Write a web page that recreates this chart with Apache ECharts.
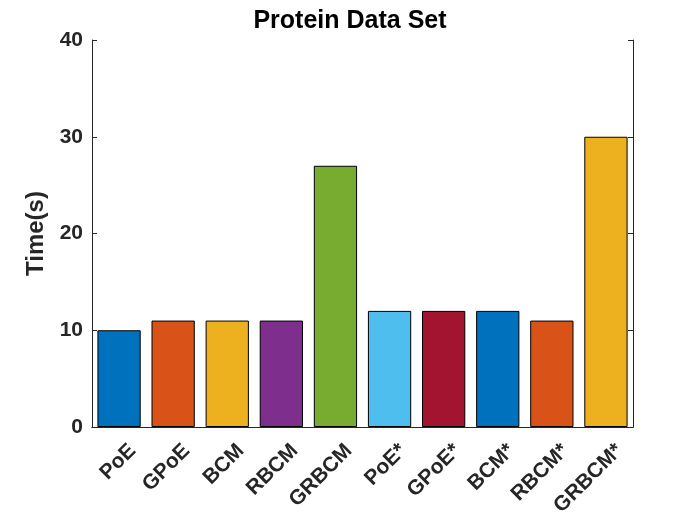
<!DOCTYPE html>
<html><head><meta charset="utf-8">
<script src="https://cdn.jsdelivr.net/npm/echarts@6/dist/echarts.min.js"></script>
<style>html,body{margin:0;padding:0;background:#fff}#c{width:700px;height:525px}</style>
</head><body><div id="c"></div>
<script>
var categories = ['PoE','GPoE','BCM','RBCM','GRBCM','PoE*','GPoE*','BCM*','RBCM*','GRBCM*'];
var times = [10, 11, 11, 11, 27, 12, 12, 12, 11, 30];
var barColors = ['#0072BD','#D95319','#EDB120','#7E2F8E','#77AC30','#4DBEEE','#A2142F','#0072BD','#D95319','#EDB120'];
var yTicks = [0, 10, 20, 30, 40];

var chart = echarts.init(document.getElementById('c'));
var font = 'Liberation Sans, Arial, sans-serif';
var axisCol = '#262626';
chart.setOption({
  animation: false,
  title: { text: 'Protein Data Set', left: 'center', top: 4,
    textStyle: { fontFamily: font, fontSize: 25, fontWeight: 'bold', color: '#000' } },
  grid: { left: 92, right: 67, top: 40, bottom: 98, containLabel: false, outerBoundsMode: 'none' },
  xAxis: [{
    type: 'category', data: categories, position: 'bottom',
    axisLine: { lineStyle: { color: axisCol, width: 1 } },
    axisTick: { inside: true, alignWithLabel: true, length: 5, lineStyle: { color: axisCol } },
    axisLabel: { rotate: 45, interval: 0, fontFamily: font, fontSize: 21, fontWeight: 'bold', color: axisCol, margin: 7,
      verticalAlign: 'top', lineHeight: 38 }
  }, {
    type: 'category', data: categories, position: 'top',
    axisLine: { lineStyle: { color: axisCol, width: 1 } },
    axisTick: { inside: true, alignWithLabel: true, length: 5, lineStyle: { color: axisCol } },
    axisLabel: { show: false }
  }],
  yAxis: [{
    type: 'value', min: yTicks[0], max: yTicks[yTicks.length-1], interval: 10,
    name: 'Time(s)', nameLocation: 'middle', nameGap: 40,
    nameTextStyle: { fontFamily: font, fontSize: 24, fontWeight: 'bold', color: axisCol },
    axisLine: { show: true, lineStyle: { color: axisCol, width: 1 } },
    axisTick: { show: true, inside: true, length: 5, lineStyle: { color: axisCol } },
    axisLabel: { fontFamily: font, fontSize: 21, fontWeight: 'bold', color: axisCol, margin: 9 },
    splitLine: { show: false }
  }, {
    type: 'value', min: yTicks[0], max: yTicks[yTicks.length-1], interval: 10, position: 'right',
    axisLine: { show: true, lineStyle: { color: axisCol, width: 1 } },
    axisTick: { show: true, inside: true, length: 5, lineStyle: { color: axisCol } },
    axisLabel: { show: false },
    splitLine: { show: false }
  }],
  series: [{
    type: 'bar', xAxisIndex: 0, yAxisIndex: 0,
    barCategoryGap: '20%',
    data: times.map(function (v, i) {
      return { value: v, itemStyle: { color: barColors[i], borderColor: '#000', borderWidth: 1 } };
    })
  }]
});
</script></body></html>
